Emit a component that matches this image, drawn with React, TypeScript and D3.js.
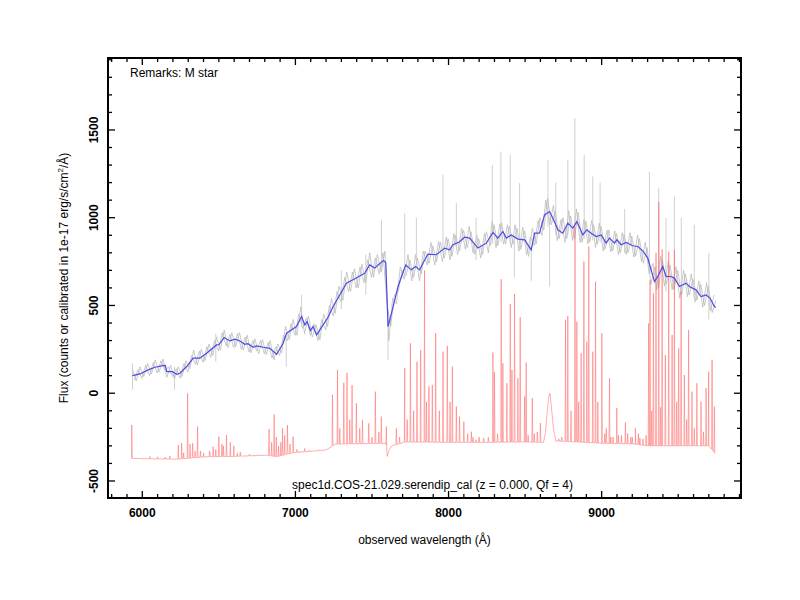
import * as d3 from "d3";

// smoothed spectrum (blue)
const blue: [number, number][] = [
  [5935, 100], [5985, 110], [6039, 133], [6083, 148], [6133, 157], [6150, 158], [6160, 123], [6198, 123],
  [6224, 108], [6246, 114], [6290, 152], [6333, 200], [6376, 200], [6420, 228], [6485, 275], [6500, 276],
  [6535, 317], [6572, 298], [6605, 308], [6637, 298], [6670, 279], [6690, 282], [6724, 262], [6746, 270],
  [6790, 262], [6833, 256], [6877, 222], [6920, 285], [6942, 342], [7007, 380], [7040, 437], [7061, 389],
  [7076, 408], [7098, 357], [7115, 380], [7138, 332], [7181, 389], [7213, 433], [7246, 494], [7290, 560],
  [7333, 627], [7376, 646], [7420, 668], [7453, 684], [7485, 731], [7518, 713], [7545, 735], [7576, 756],
  [7590, 745], [7605, 380], [7633, 475], [7670, 608], [7720, 731], [7757, 703], [7785, 722], [7811, 703],
  [7833, 741], [7866, 793], [7920, 789], [7975, 827], [8007, 817], [8029, 846], [8070, 862], [8105, 889],
  [8138, 884], [8192, 827], [8247, 855], [8290, 916], [8322, 884], [8355, 921], [8377, 884], [8410, 902],
  [8453, 878], [8497, 874], [8540, 817], [8562, 912], [8594, 912], [8627, 1016], [8660, 1035], [8686, 988],
  [8714, 931], [8746, 912], [8779, 969], [8812, 941], [8838, 978], [8877, 902], [8903, 931], [8931, 912],
  [8964, 893], [8997, 902], [9029, 855], [9051, 884], [9084, 855], [9099, 874], [9127, 846], [9160, 859],
  [9203, 840], [9236, 836], [9270, 810], [9301, 770], [9345, 636], [9366, 665], [9399, 722], [9421, 665],
  [9453, 665], [9475, 656], [9508, 608], [9551, 627], [9573, 608], [9616, 589], [9649, 551], [9682, 560],
  [9708, 542], [9736, 494], [9745, 488],
];

// raw exposures (gray)
const grayA: [number, number][] = [
  [5935, 140], [5960, 70], [5985, 150], [6010, 95], [6035, 170], [6060, 110], [6085, 190], [6110, 120],
  [6135, 195], [6160, 90], [6185, 160], [6210, 80], [6235, 150], [6260, 95], [6285, 185], [6310, 140],
  [6335, 245], [6360, 160], [6385, 250], [6410, 185], [6435, 280], [6460, 215], [6485, 320], [6510, 245],
  [6535, 360], [6560, 260], [6585, 345], [6610, 265], [6635, 345], [6660, 245], [6685, 330], [6710, 230],
  [6735, 310], [6760, 225], [6785, 305], [6810, 220], [6835, 300], [6860, 190], [6885, 280], [6910, 230],
  [6935, 380], [6960, 305], [6985, 420], [7010, 330], [7035, 490], [7060, 340], [7085, 440], [7110, 320],
  [7135, 390], [7160, 305], [7185, 450], [7210, 380], [7235, 540], [7260, 455], [7285, 610], [7310, 530],
  [7335, 690], [7360, 580], [7385, 710], [7410, 600], [7435, 735], [7460, 630], [7485, 800], [7510, 660],
  [7535, 790], [7560, 690], [7585, 810], [7610, 300], [7635, 540], [7660, 510], [7685, 720], [7710, 650],
  [7735, 790], [7760, 640], [7785, 790], [7810, 640], [7835, 810], [7860, 730], [7885, 860], [7910, 730],
  [7935, 865], [7960, 750], [7985, 890], [8010, 760], [8035, 910], [8060, 790], [8085, 940], [8110, 820],
  [8135, 950], [8160, 800], [8185, 900], [8210, 770], [8235, 910], [8260, 800], [8285, 980], [8310, 830],
  [8335, 965], [8360, 850], [8385, 960], [8410, 830], [8435, 960], [8460, 810], [8485, 945], [8510, 790],
  [8535, 890], [8560, 840], [8585, 985], [8610, 900], [8635, 1100], [8660, 960], [8685, 1070], [8710, 870],
  [8735, 990], [8760, 860], [8785, 1040], [8810, 870], [8835, 1050], [8860, 860], [8885, 990], [8910, 850],
  [8935, 985], [8960, 830], [8985, 970], [9010, 810], [9035, 930], [9060, 805], [9085, 925], [9110, 790],
  [9135, 915], [9160, 790], [9185, 915], [9210, 775], [9235, 900], [9260, 750], [9285, 860], [9310, 680],
  [9335, 740], [9360, 590], [9385, 780], [9410, 610], [9435, 750], [9460, 590], [9485, 720], [9510, 540],
  [9535, 700], [9560, 550], [9585, 680], [9610, 520], [9635, 640], [9660, 490], [9685, 630], [9710, 470],
  [9735, 560],
];

const grayB: [number, number][] = [
  [5947, 75], [5972, 135], [5997, 85], [6022, 160], [6047, 100], [6072, 175], [6097, 115], [6122, 185],
  [6147, 130], [6172, 150], [6197, 95], [6222, 140], [6247, 85], [6272, 170], [6297, 120], [6322, 215],
  [6347, 165], [6372, 240], [6397, 175], [6422, 265], [6447, 205], [6472, 300], [6497, 240], [6522, 345],
  [6547, 270], [6572, 335], [6597, 260], [6622, 340], [6647, 250], [6672, 320], [6697, 235], [6722, 300],
  [6747, 240], [6772, 300], [6797, 225], [6822, 290], [6847, 200], [6872, 265], [6897, 215], [6922, 330],
  [6947, 300], [6972, 395], [6997, 330], [7022, 450], [7047, 370], [7072, 430], [7097, 330], [7122, 395],
  [7147, 300], [7172, 420], [7197, 360], [7222, 500], [7247, 440], [7272, 580], [7297, 520], [7322, 660],
  [7347, 580], [7372, 690], [7397, 600], [7422, 720], [7447, 630], [7472, 760], [7497, 660], [7522, 770],
  [7547, 680], [7572, 800], [7597, 520], [7622, 380], [7647, 560], [7672, 580], [7697, 700], [7722, 670],
  [7747, 760], [7772, 660], [7797, 770], [7822, 680], [7847, 810], [7872, 740], [7897, 840], [7922, 750],
  [7947, 860], [7972, 770], [7997, 880], [8022, 780], [8047, 900], [8072, 810], [8097, 930], [8122, 830],
  [8147, 920], [8172, 790], [8197, 880], [8222, 790], [8247, 920], [8272, 840], [8297, 960], [8322, 840],
  [8347, 970], [8372, 850], [8397, 950], [8422, 850], [8447, 940], [8472, 820], [8497, 925], [8522, 780],
  [8547, 940], [8572, 850], [8597, 1000], [8622, 930], [8647, 1110], [8672, 960], [8697, 1040], [8722, 880],
  [8747, 1000], [8772, 880], [8797, 1010], [8822, 880], [8847, 1030], [8872, 860], [8897, 980], [8922, 860],
  [8947, 960], [8972, 850], [8997, 950], [9022, 820], [9047, 930], [9072, 810], [9097, 910], [9122, 800],
  [9147, 905], [9172, 800], [9197, 895], [9222, 780], [9247, 880], [9272, 740], [9297, 830], [9322, 620],
  [9347, 720], [9372, 600], [9397, 760], [9422, 620], [9447, 730], [9472, 590], [9497, 700], [9522, 560],
  [9547, 680], [9572, 560], [9597, 650], [9622, 530], [9647, 620], [9672, 500], [9697, 610], [9722, 460],
  [9747, 530],
];

// isolated gray excursions: [wavelength, top, bottom]
const graySpikes: [number, number, number][] = [
  [5936, 170, 20], [6210, 150, 20], [6480, 340, 180], [6940, 330, 150], [7040, 560, 380], [7300, 700, 480],
  [7460, 790, 560], [7562, 988, 700], [7605, 420, 190], [7714, 1026, 700], [7790, 1000, 750],
  [7964, 1245, 800], [8051, 1083, 830], [8180, 1000, 760], [8286, 1302, 850], [8342, 1377, 860],
  [8403, 1359, 850], [8430, 880, 660], [8464, 1197, 860], [8540, 840, 640], [8649, 1330, 950],
  [8660, 1000, 608], [8700, 1200, 900], [8779, 1330, 900], [8825, 1568, 900], [8886, 1359, 880],
  [8942, 1235, 870], [8990, 1200, 860], [9150, 1050, 800], [9312, 1263, 700], [9373, 1169, 620],
  [9420, 1000, 580], [9475, 1121, 620], [9520, 1000, 560], [9605, 960, 540], [9700, 800, 420],
];

// sky / error spectrum (red): continuum knots and emission peaks
const redBase: [number, number][] = [
  [5931, -371], [6000, -373], [6225, -376], [6425, -362], [6600, -360], [6810, -353], [6880, -362],
  [6980, -340], [7200, -323], [7235, -305], [7260, -290], [7590, -285], [7600, -360], [7612, -322],
  [7630, -300], [7715, -278], [8000, -280], [8250, -280], [8500, -278], [8620, -280], [8632, -230],
  [8645, -100], [8655, -20], [8662, 0], [8672, -80], [8685, -200], [8700, -272], [9000, -285],
  [9220, -290], [9300, -300], [9700, -300], [9742, -345],
];

const redPeaks: [number, number][] = [
  [5931, -181], [6050, -360], [6100, -362], [6150, -364], [6180, -358], [6235, -295], [6257, -285],
  [6270, -340], [6296, 0], [6312, -290], [6329, -285], [6345, -330], [6361, -190], [6380, -330],
  [6400, -340], [6440, -330], [6463, -304], [6480, -320], [6500, -247], [6520, -290], [6530, -300],
  [6550, -238], [6575, -280], [6598, -300], [6620, -340], [6640, -335], [6700, -348], [6760, -350],
  [6828, -205], [6845, -280], [6861, -120], [6875, -250], [6890, -300], [6905, -280], [6916, -200],
  [6930, -240], [6948, -181], [6965, -290], [6985, -247], [7010, -320], [7030, -330], [7060, -315],
  [7090, -325], [7120, -330], [7150, -322], [7180, -328], [7242, -10], [7275, 133], [7290, -200], [7316, 60],
  [7337, 117], [7355, -150], [7370, 47], [7398, -57], [7420, -200], [7438, -152], [7479, -171], [7500, -250],
  [7522, 9], [7545, -220], [7561, -133], [7594, -190], [7659, -200], [7680, -250], [7714, 143], [7730, -150],
  [7751, 285], [7772, -100], [7794, 180], [7818, 247], [7843, 700], [7856, -50], [7872, 38], [7894, 47],
  [7916, 342], [7940, -100], [7964, 237], [7992, 270], [8010, -50], [8025, 152], [8051, -76], [8072, -133],
  [8100, -162], [8125, -230], [8149, -219], [8160, -250], [8180, -265], [8200, -250], [8230, -255],
  [8260, -250], [8290, 232], [8300, 120], [8320, -230], [8344, 650], [8355, 171], [8381, 57], [8403, 509],
  [8414, 133], [8431, 566], [8453, 85], [8468, 433], [8497, -19], [8507, 175], [8520, -240], [8547, -28],
  [8560, -230], [8580, -220], [8600, -170], [8720, -260], [8740, -250], [8764, 418], [8779, 440],
  [8800, -100], [8826, 950], [8838, 408], [8850, -50], [8866, 228], [8884, 750], [8903, 294], [8916, 836],
  [8942, 237], [8960, 636], [8975, -50], [9001, 342], [9020, -230], [9030, -200], [9051, 85], [9060, -250],
  [9075, -250], [9099, -85], [9110, -240], [9130, -240], [9155, -167], [9170, -230], [9190, -250],
  [9200, -250], [9220, -200], [9240, -230], [9250, -255], [9270, -260], [9290, -240], [9307, 399],
  [9316, 646], [9327, -100], [9338, 570], [9355, 800], [9373, 1090], [9385, -80], [9395, 820], [9416, 218],
  [9438, 807], [9460, 332], [9475, 817], [9490, -50], [9503, 256], [9519, 579], [9540, 104], [9555, -150],
  [9568, 361], [9590, 9], [9605, -200], [9622, 57], [9649, -48], [9665, -220], [9682, 29], [9699, 123],
  [9721, 190], [9736, -76],
];

const xMajor = [6000, 7000, 8000, 9000];
const yMajor = [-500, 0, 500, 1000, 1500];

const FONT = "'Liberation Sans', Arial, Helvetica, sans-serif";

export default function App() {
  const L = 108, R = 741, T = 58, B = 498;
  const x = d3.scaleLinear().domain([5776, 9910]).range([L, R]);
  const y = d3.scaleLinear().domain([-597, 1910]).range([B, T]);

  const xMinor = d3.range(5800, 9901, 100).filter((v) => v % 1000 !== 0);
  const yMinor = d3.range(-500, 1901, 100).filter((v) => v % 500 !== 0);

  const line = d3.line<[number, number]>().x((d) => x(d[0])).y((d) => y(d[1]));

  // continuum under each red peak, from the knots
  const baseAt = d3.scaleLinear().domain(redBase.map((d) => d[0])).range(redBase.map((d) => d[1]));
  const redPts: [number, number][] = [
    ...redBase,
    ...redPeaks.flatMap(([l, p]) => [
      [l - 3, baseAt(l - 3)] as [number, number],
      [l, p] as [number, number],
      [l + 3, baseAt(l + 3)] as [number, number],
    ]),
  ].sort((a, b) => a[0] - b[0]);

  const tickMaj = 7, tickMin = 4;

  return (
    <svg width={800} height={600} style={{ position: "absolute", left: 0, top: 0, background: "#fff" }}
      fontFamily={FONT}>
      <defs>
        <clipPath id="plot"><rect x={L} y={T} width={R - L} height={B - T} /></clipPath>
      </defs>
      <g clipPath="url(#plot)">
        <path d={line(grayA) || ""} fill="none" stroke="#b4b4b4" strokeWidth={1} opacity={0.7} />
        <path d={line(grayB) || ""} fill="none" stroke="#b4b4b4" strokeWidth={1} opacity={0.7} />
        {graySpikes.map(([l, t, b], i) => (
          <line key={i} x1={x(l)} x2={x(l)} y1={y(t)} y2={y(b)} stroke="#c4c4c4" strokeWidth={0.8} />
        ))}
        <path d={line(redPts) || ""} fill="none" stroke="#f66" strokeWidth={0.7} opacity={0.75} />
        <path d={line(blue) || ""} fill="none" stroke="#4b4be8" strokeWidth={1.2} />
      </g>

      {/* ticks on all four sides, pointing inward */}
      <g stroke="#000" strokeWidth={1.3}>
        {xMajor.map((v) => (
          <g key={"xM" + v}>
            <line x1={x(v)} x2={x(v)} y1={B} y2={B - tickMaj} />
            <line x1={x(v)} x2={x(v)} y1={T} y2={T + tickMaj} />
          </g>
        ))}
        {xMinor.map((v) => (
          <g key={"xm" + v}>
            <line x1={x(v)} x2={x(v)} y1={B} y2={B - tickMin} />
            <line x1={x(v)} x2={x(v)} y1={T} y2={T + tickMin} />
          </g>
        ))}
        {yMajor.map((v) => (
          <g key={"yM" + v}>
            <line x1={L} x2={L + tickMaj} y1={y(v)} y2={y(v)} />
            <line x1={R} x2={R - tickMaj} y1={y(v)} y2={y(v)} />
          </g>
        ))}
        {yMinor.map((v) => (
          <g key={"ym" + v}>
            <line x1={L} x2={L + tickMin} y1={y(v)} y2={y(v)} />
            <line x1={R} x2={R - tickMin} y1={y(v)} y2={y(v)} />
          </g>
        ))}
      </g>
      <rect x={L} y={T} width={R - L} height={B - T} fill="none" stroke="#000" strokeWidth={2} />

      {xMajor.map((v) => (
        <text key={"xl" + v} x={x(v)} y={517} textAnchor="middle" fontSize={12} fontWeight="bold">{v}</text>
      ))}
      {yMajor.map((v) => (
        <text key={"yl" + v} transform={`translate(98,${y(v)}) rotate(-90)`} textAnchor="middle"
          fontSize={12} fontWeight="bold">{v}</text>
      ))}

      <text x={130} y={77} fontSize={12}>Remarks: M star</text>
      <text x={(L + R) / 2 + 8} y={489} textAnchor="middle" fontSize={12}>
        spec1d.COS-21.029.serendip_cal (z = 0.000, Qf = 4)
      </text>
      <text x={(L + R) / 2} y={544} textAnchor="middle" fontSize={12}>observed wavelength (Å)</text>
      <text transform={`translate(68,${(T + B) / 2}) rotate(-90)`} textAnchor="middle" fontSize={12}>
        Flux (counts or calibrated in 1e-17 erg/s/cm<tspan dy={-5} fontSize={8}>2</tspan>
        <tspan dy={5}>/Å)</tspan>
      </text>
    </svg>
  );
}
